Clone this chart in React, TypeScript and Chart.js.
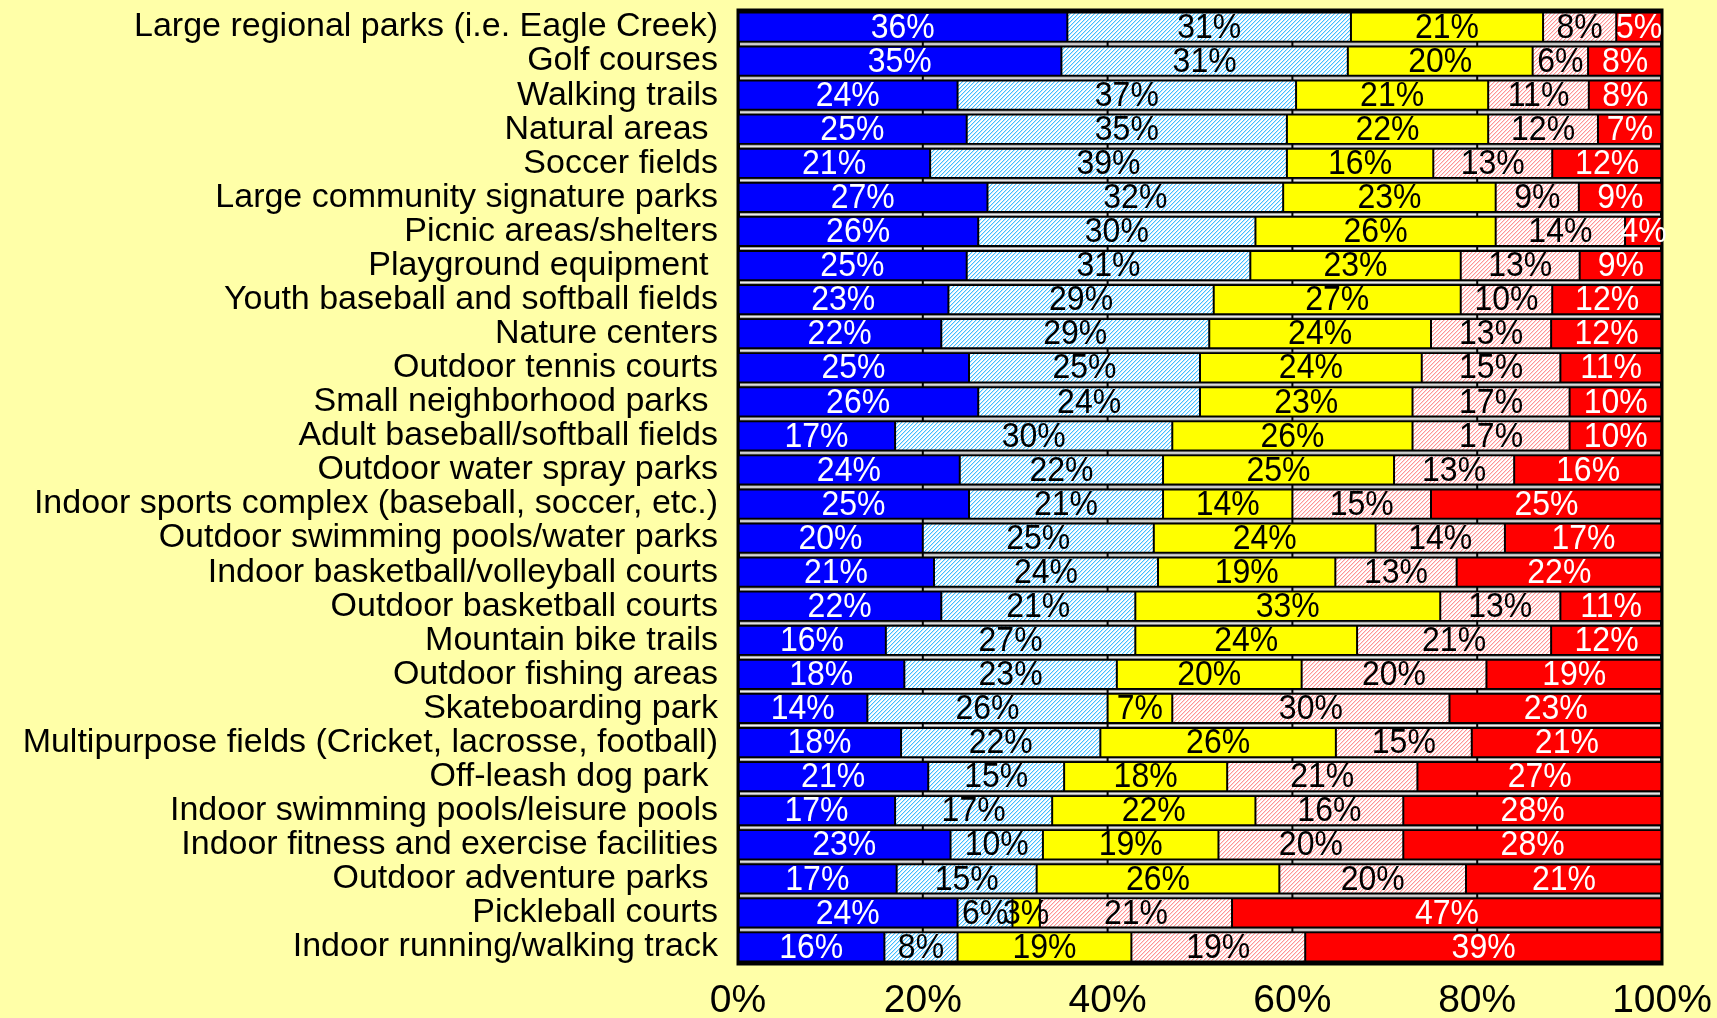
import React, { useEffect, useRef } from "react";
import { Chart, registerables } from "chart.js";

Chart.register(...registerables);

const categories = [
  "Large regional parks (i.e. Eagle Creek)",
  "Golf courses",
  "Walking trails",
  "Natural areas ",
  "Soccer fields",
  "Large community signature parks",
  "Picnic areas/shelters",
  "Playground equipment ",
  "Youth baseball and softball fields",
  "Nature centers",
  "Outdoor tennis courts",
  "Small neighborhood parks ",
  "Adult baseball/softball fields",
  "Outdoor water spray parks",
  "Indoor sports complex (baseball, soccer, etc.)",
  "Outdoor swimming pools/water parks",
  "Indoor basketball/volleyball courts",
  "Outdoor basketball courts",
  "Mountain bike trails",
  "Outdoor fishing areas",
  "Skateboarding park",
  "Multipurpose fields (Cricket, lacrosse, football)",
  "Off-leash dog park ",
  "Indoor swimming pools/leisure pools",
  "Indoor fitness and exercise facilities",
  "Outdoor adventure parks ",
  "Pickleball courts",
  "Indoor running/walking track",
];

const series1 = [36, 35, 24, 25, 21, 27, 26, 25, 23, 22, 25, 26, 17, 24, 25, 20, 21, 22, 16, 18, 14, 18, 21, 17, 23, 17, 24, 16];
const series2 = [31, 31, 37, 35, 39, 32, 30, 31, 29, 29, 25, 24, 30, 22, 21, 25, 24, 21, 27, 23, 26, 22, 15, 17, 10, 15, 6, 8];
const series3 = [21, 20, 21, 22, 16, 23, 26, 23, 27, 24, 24, 23, 26, 25, 14, 24, 19, 33, 24, 20, 7, 26, 18, 22, 19, 26, 3, 19];
const series4 = [8, 6, 11, 12, 13, 9, 14, 13, 10, 13, 15, 17, 17, 13, 15, 14, 13, 13, 21, 20, 30, 15, 21, 16, 20, 20, 21, 19];
const series5 = [5, 8, 8, 7, 12, 9, 4, 9, 12, 12, 11, 10, 10, 16, 25, 17, 22, 11, 12, 19, 23, 21, 27, 28, 28, 21, 47, 39];

const seriesNames = ["Series 1", "Series 2", "Series 3", "Series 4", "Series 5"];
const xTicks = [0, 20, 40, 60, 80, 100];

const FONT = "'Liberation Sans', Arial, sans-serif";

function hatch(dark: string, light: string, bg: string) {
  const c = document.createElement("canvas");
  c.width = 4;
  c.height = 4;
  const g = c.getContext("2d")!;
  g.fillStyle = bg;
  g.fillRect(0, 0, 4, 4);
  for (let i = 0; i < 4; i++) {
    g.fillStyle = dark;
    g.fillRect(i, 3 - i, 1, 1);
    g.fillStyle = light;
    g.fillRect(i, (4 - i) % 4, 1, 1);
  }
  return g.createPattern(c, "repeat")!;
}

export default function App() {
  const ref = useRef<HTMLCanvasElement | null>(null);

  useEffect(() => {
    const canvas = ref.current;
    if (!canvas) return;
    const raw = [series1, series2, series3, series4, series5];
    const totals = categories.map((_, i) => raw.reduce((s, arr) => s + arr[i], 0));
    const blueHatch = hatch("#40BEFF", "#C4E8FF", "#FFFFFF");
    const pinkHatch = hatch("#FF9494", "#FFD8D8", "#FFFFFF");
    const fills: any[] = ["#0000FF", blueHatch, "#FFFF00", pinkHatch, "#FF0000"];
    const labelColors = ["#FFFFFF", "#000000", "#000000", "#000000", "#FFFFFF"];

    const bgPlugin = {
      id: "plotBg",
      beforeDatasetsDraw(chart: any) {
        const { ctx, chartArea: a, scales } = chart;
        const ys = scales.y;
        const xs = scales.x;
        ctx.save();
        ctx.fillStyle = "#000000";
        ctx.fillRect(a.left, a.top, a.right - a.left, a.bottom - a.top);
        for (let i = 0; i < categories.length - 1; i++) {
          const yy = (ys.getPixelForValue(i) + ys.getPixelForValue(i + 1)) / 2;
          ctx.fillStyle = "#A0A0A0";
          ctx.fillRect(a.left + 2, yy - 1.5, a.right - a.left - 4, 3);
          ctx.fillStyle = "#F4F4F4";
          ctx.fillRect(a.left + 2, yy - 0.5, a.right - a.left - 4, 1);
        }
        ctx.fillStyle = "#000000";
        xTicks.forEach((t) => {
          const px = xs.getPixelForValue(t);
          ctx.fillRect(px - 1, a.top, 2, a.bottom - a.top);
        });
        ctx.restore();
      },
      afterDatasetsDraw(chart: any) {
        const { ctx, chartArea: a } = chart;
        ctx.save();
        ctx.strokeStyle = "#000000";
        ctx.lineWidth = 3;
        ctx.strokeRect(a.left, a.top, a.right - a.left, a.bottom - a.top);
        ctx.font = `32px ${FONT}`;
        ctx.textAlign = "center";
        ctx.textBaseline = "middle";
        chart.data.datasets.forEach((_: any, di: number) => {
          const meta = chart.getDatasetMeta(di);
          meta.data.forEach((el: any, i: number) => {
            const p = el.getProps(["x", "y", "base"], true);
            ctx.save();
            ctx.translate((p.x + p.base) / 2, p.y + 1);
            ctx.scale(1, 1.1);
            ctx.fillStyle = labelColors[di];
            ctx.fillText(raw[di][i] + "%", 0, 0);
            ctx.restore();
          });
        });
        ctx.restore();
      },
    };

    Chart.defaults.font.family = FONT;

    const chart = new Chart(canvas, {
      type: "bar",
      data: {
        labels: categories,
        datasets: raw.map((arr, di) => ({
          label: seriesNames[di],
          data: arr.map((v, i) => (v / totals[i]) * 100),
          backgroundColor: fills[di],
          borderColor: "#000000",
          borderWidth: 1,
          borderSkipped: false,
          barPercentage: 0.86,
          categoryPercentage: 1,
        })),
      },
      options: {
        indexAxis: "y",
        animation: false,
        responsive: false,
        devicePixelRatio: 1,
        layout: { padding: { left: 0, right: 55, top: 10, bottom: 0 } },
        plugins: {
          legend: { display: false },
          tooltip: { enabled: false },
        },
        scales: {
          x: {
            stacked: true,
            min: 0,
            max: 100,
            ticks: {
              stepSize: 20,
              color: "#000000",
              font: { size: 39 },
              padding: 14,
              callback: (v: any) => v + "%",
            },
            grid: { display: false, drawTicks: false },
            border: { display: false },
            afterFit: (s: any) => {
              s.height = 54;
              s.paddingLeft = 0;
              s.paddingRight = 0;
            },
          },
          y: {
            stacked: true,
            ticks: {
              color: "#000000",
              font: { size: 34 },
              padding: 20,
              autoSkip: false,
            },
            grid: { display: false, drawTicks: false },
            border: { display: false },
            afterFit: (s: any) => {
              s.width = 738;
              s.paddingTop = 0;
              s.paddingBottom = 0;
            },
          },
        },
      },
      plugins: [bgPlugin],
    } as any);

    return () => chart.destroy();
  }, []);

  return (
    <div
      style={{
        position: "fixed",
        left: 0,
        top: 0,
        width: 1717,
        height: 1018,
        background: "#FFFFA8",
        overflow: "hidden",
      }}
    >
      <canvas ref={ref} width={1717} height={1018} style={{ display: "block" }} />
    </div>
  );
}
